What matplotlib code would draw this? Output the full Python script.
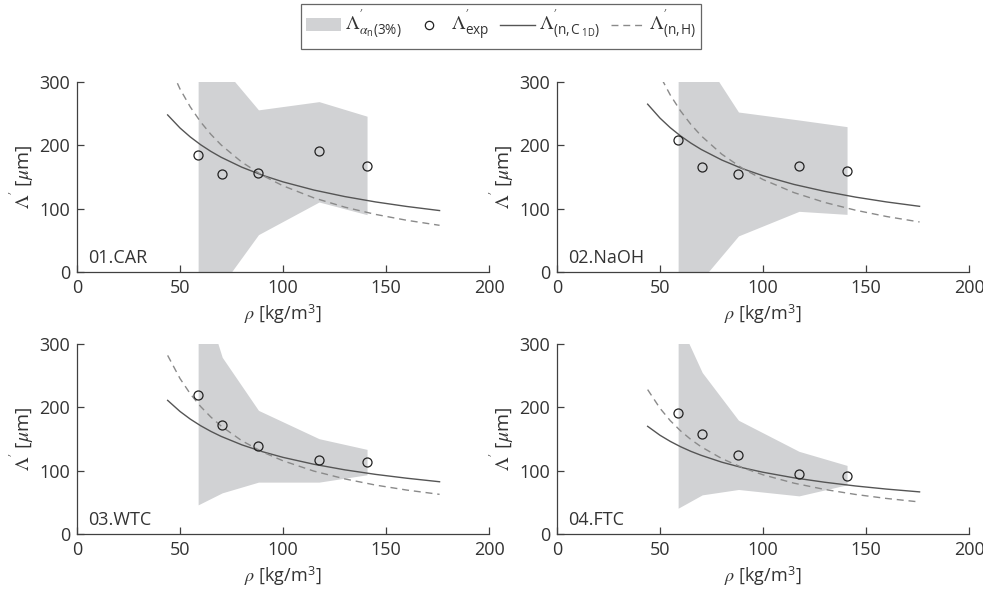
import matplotlib
matplotlib.use("Agg")
import matplotlib.pyplot as plt
from matplotlib.patches import Patch
from matplotlib.lines import Line2D

plt.rcParams['font.family'] = ['Open Sans', 'DejaVu Sans']
plt.rcParams['mathtext.fontset'] = 'custom'
plt.rcParams['mathtext.rm'] = 'STIXGeneral'
plt.rcParams['mathtext.it'] = 'STIXGeneral:italic'
plt.rcParams['mathtext.bf'] = 'STIXGeneral:bold'
plt.rcParams['mathtext.sf'] = 'Open Sans'
plt.rcParams['mathtext.fallback'] = 'stix'

# ---------------- data ----------------
panels = ["01.CAR", "02.NaOH", "03.WTC", "04.FTC"]
rho = [58.8, 70.5, 88.1, 117.5, 140.8]

exp_car = [184, 154, 156, 190.5, 167]
exp_naoh = [208.4, 165, 154, 167, 160]
exp_wtc = [219.7, 171.7, 138.4, 116.2, 113]
exp_ftc = [191.2, 158.5, 124.7, 95.1, 91.4]

upper_car = [360, 324, 256, 269, 246]
lower_car = [-30, -20, 59, 110.5, 90.5]
upper_naoh = [380, 341, 252.6, 240, 229.5]
lower_naoh = [-30, -11, 57, 95.8, 91]
upper_wtc = [400, 279, 195.2, 150.5, 133.6]
lower_wtc = [46, 65, 81.9, 81.9, 93.5]
upper_ftc = [338, 255, 179.6, 130.5, 108.3]
lower_ftc = [40.7, 61.8, 70.3, 60.2, 77.7]

rho_model = [44, 50, 55, 60, 65, 70, 80, 90, 100, 115, 130, 145, 160, 176]

c1d_car = [248, 227.4, 213.2, 201.0, 190.4, 181.1, 165.5, 152.8, 142.3, 129.4, 119.1, 110.6, 103.5, 97.0]
h_car = [332, 289.0, 260.6, 237.0, 217.3, 200.5, 173.5, 152.6, 136.1, 117.0, 102.4, 90.9, 81.7, 73.7]
c1d_naoh = [265, 243.0, 227.8, 214.8, 203.5, 193.5, 176.8, 163.2, 152.0, 138.3, 127.3, 118.2, 110.6, 103.7]
h_naoh = [356, 309.9, 279.4, 254.2, 233.0, 215.0, 186.0, 163.7, 146.0, 125.4, 109.8, 97.5, 87.6, 79.0]
c1d_wtc = [211, 193.5, 181.4, 171.0, 162.0, 154.1, 140.8, 130.0, 121.0, 110.1, 101.3, 94.1, 88.1, 82.5]
h_wtc = [282, 245.5, 221.3, 201.3, 184.6, 170.3, 147.3, 129.6, 115.6, 99.3, 87.0, 77.2, 69.4, 62.6]
c1d_ftc = [170, 155.9, 146.2, 137.8, 130.5, 124.2, 113.4, 104.7, 97.5, 88.7, 81.7, 75.8, 70.9, 66.5]
h_ftc = [228, 198.5, 178.9, 162.8, 149.2, 137.7, 119.1, 104.8, 93.5, 80.3, 70.3, 62.4, 56.1, 50.6]

x_ticks = [0, 50, 100, 150, 200]
y_ticks = [0, 100, 200, 300]

series = [
    (exp_car, upper_car, lower_car, c1d_car, h_car),
    (exp_naoh, upper_naoh, lower_naoh, c1d_naoh, h_naoh),
    (exp_wtc, upper_wtc, lower_wtc, c1d_wtc, h_wtc),
    (exp_ftc, upper_ftc, lower_ftc, c1d_ftc, h_ftc),
]

# ---------------- style ----------------
band_col = '#d1d2d4'
solid_col = '#555555'
dash_col = '#8a8a8a'
txt_col = '#333333'
fs = 13

fig = plt.figure(figsize=(9.83, 5.98), dpi=100)
W, H = 983, 598
boxes = [(77, 82), (557, 82), (77, 344), (557, 344)]
aw, ah = 412, 190

for i, (name, (ex, up, lo, c1, hh)) in enumerate(zip(panels, series)):
    l, t = boxes[i]
    ax = fig.add_axes([l / W, 1 - (t + ah) / H, aw / W, ah / H])
    ax.fill_between(rho, lo, up, color=band_col, linewidth=0, zorder=1)
    ax.plot(rho_model, c1, color=solid_col, lw=1.0, zorder=2)
    ax.plot(rho_model, hh, color=dash_col, lw=1.0, ls=(0, (5, 3.5)), zorder=2)
    ax.plot(rho, ex, 'o', mfc='none', mec='#222222', ms=6.5, mew=0.9, zorder=3)
    ax.set_xlim(0, 200)
    ax.set_ylim(0, 300)
    ax.set_xticks(x_ticks)
    ax.set_yticks(y_ticks)
    for s in ['top', 'right']:
        ax.spines[s].set_visible(False)
    for s in ['left', 'bottom']:
        ax.spines[s].set_color('#404040')
        ax.spines[s].set_linewidth(0.9)
    ax.tick_params(direction='in', length=5, width=0.9, colors='#404040',
                   labelcolor=txt_col, labelsize=fs, pad=5)
    ax.set_xlabel(r"$\rho$ [kg/m$^{\mathsf{3}}$]", fontsize=fs, color=txt_col, labelpad=4)
    ax.set_ylabel(r"$\Lambda^{\mathsf{'}}$ [$\mu$m]", fontsize=fs + 1, color=txt_col, labelpad=2)
    ax.text(5.5, 14, name, fontsize=fs, color=txt_col, zorder=4)
    ax.patch.set_alpha(0)

handles = [
    Patch(facecolor=band_col, edgecolor='none'),
    Line2D([], [], ls='none', marker='o', mfc='none', mec='#222222', ms=6, mew=0.9),
    Line2D([], [], color=solid_col, lw=1.0),
    Line2D([], [], color=dash_col, lw=1.0, ls=(0, (5, 3.5))),
]
labels = [
    r"$\Lambda^{\mathsf{'}}_{\alpha_{\mathsf{n}}\mathsf{(3\%)}}$",
    r"$\Lambda^{\mathsf{'}}_{\mathsf{exp}}$",
    r"$\Lambda^{\mathsf{'}}_{\mathsf{(n,C_{\ 1D})}}$",
    r"$\Lambda^{\mathsf{'}}_{\mathsf{(n,H)}}$",
]
leg = fig.legend(handles, labels, loc='upper center', bbox_to_anchor=(0.51, 0.997),
                 ncol=4, frameon=True, fancybox=False, fontsize=14,
                 handlelength=1.8, handletextpad=0.2, columnspacing=0.55,
                 borderpad=0.22, borderaxespad=0.1, edgecolor='#404040')
leg.get_frame().set_linewidth(0.9)
for t in leg.get_texts():
    t.set_color(txt_col)

fig.savefig("out.png", dpi=100)
